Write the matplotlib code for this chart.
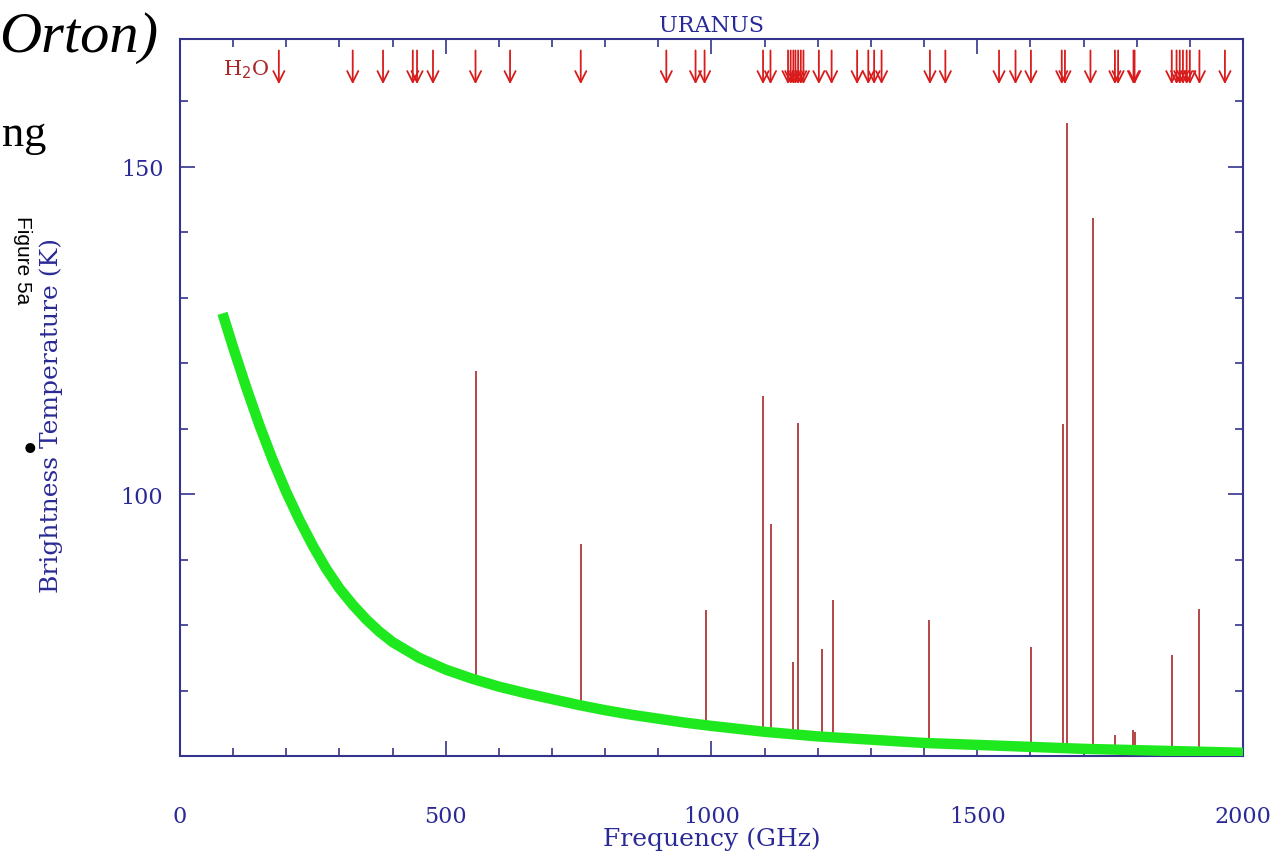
import numpy as np
import matplotlib.pyplot as plt
from matplotlib.ticker import MultipleLocator

# ===================== DATA =====================
# continuum (green) brightness temperature
CONT_FREQ = [80, 100, 125, 150, 175, 200, 225, 250, 275, 300, 325, 350, 375,
             400, 450, 500, 550, 600, 650, 700, 750, 800, 850, 900, 950,
             1000, 1100, 1200, 1300, 1400, 1500, 1600, 1700, 1800, 1900, 2000]
CONT_TEMP = [127.6, 122.4, 116.2, 110.4, 105.1, 100.3, 96.0, 92.1, 88.6, 85.6,
             83.1, 80.9, 79.0, 77.4, 75.0, 73.2, 71.8, 70.6, 69.6, 68.7, 67.8,
             67.0, 66.3, 65.7, 65.1, 64.6, 63.7, 63.0, 62.5, 62.0, 61.7, 61.4,
             61.1, 60.9, 60.7, 60.5]

# emission line peaks (red)
LINE_FREQ = [557, 754, 990, 1097, 1112, 1153, 1162, 1207, 1228, 1410,
             1602, 1661, 1668, 1717, 1760, 1793, 1796, 1866, 1917]
LINE_PEAK = [118.8, 92.4, 82.3, 115.0, 95.4, 74.4, 110.9, 76.4, 83.8, 80.8,
             76.6, 110.7, 156.6, 142.1, 63.2, 64.0, 63.7, 75.4, 82.4]

# H2O line positions marked with arrows at the top
H2O_FREQ = [186, 325, 382, 438, 446, 476, 556, 621, 754, 915, 970, 987,
            1097, 1111, 1144, 1149, 1154, 1158, 1163, 1168, 1173, 1202, 1226,
            1274, 1295, 1306, 1320, 1411, 1440, 1541, 1572, 1601, 1659, 1665,
            1713, 1759, 1765, 1794, 1796, 1866, 1875, 1881, 1887, 1894, 1900,
            1918, 1966]

X_TICKS = [0, 500, 1000, 1500, 2000]
Y_TICKS = [100, 150]

# ===================== COLOURS =====================
NAVY = "#34348c"
NAVY_TEXT = "#2a2a96"
LINE_RED = "#a82828"
ARROW_RED = "#d81c1c"
GREEN = "#1ee81e"

SERIF = "DejaVu Serif"

fig = plt.figure(figsize=(12.72, 8.53), dpi=100)
ax = fig.add_axes([0.1415, 0.1125, 0.8357, 0.8406])

# spectral lines (behind the continuum)
base = np.interp(LINE_FREQ, CONT_FREQ, CONT_TEMP)
ax.vlines(LINE_FREQ, base, LINE_PEAK, color=LINE_RED, linewidth=1.2, zorder=2)

# continuum
ax.plot(CONT_FREQ, CONT_TEMP, color=GREEN, linewidth=7.5, solid_capstyle="butt",
        solid_joinstyle="round", zorder=3)

# H2O arrows
trans = ax.get_xaxis_transform()
for f in H2O_FREQ:
    ax.annotate("", xy=(f, 0.937), xytext=(f, 0.984),
                xycoords=trans, textcoords=trans,
                arrowprops=dict(arrowstyle="->", color=ARROW_RED, lw=1.3,
                                mutation_scale=20, shrinkA=0, shrinkB=0))
ax.text(168, 0.958, "H$_2$O", transform=trans, ha="right", va="center",
        color=LINE_RED, fontsize=15, family=SERIF)

# ===================== AXES =====================
ax.set_xlim(0, 2000)
ax.set_ylim(60, 169.5)
ax.set_xticks(X_TICKS)
ax.set_yticks(Y_TICKS)
ax.xaxis.set_minor_locator(MultipleLocator(100))
ax.yaxis.set_minor_locator(MultipleLocator(10))

for sp in ax.spines.values():
    sp.set_color(NAVY)
    sp.set_linewidth(1.5)

ax.tick_params(which="both", direction="in", top=True, right=True,
               color=NAVY, width=1.2, labelcolor=NAVY_TEXT, labelsize=16)
ax.tick_params(which="major", length=11)
ax.tick_params(which="minor", length=5.5)
ax.tick_params(axis="x", which="major", pad=35)
ax.tick_params(axis="y", which="major", pad=12)
for lab in ax.get_xticklabels() + ax.get_yticklabels():
    lab.set_family(SERIF)

ax.set_xlabel("Frequency (GHz)", fontsize=18, color=NAVY_TEXT, family=SERIF)
ax.xaxis.set_label_coords(0.5, -0.098)
ax.set_ylabel("Brightness Temperature (K)", fontsize=18, color=NAVY_TEXT,
              family=SERIF)
ax.yaxis.set_label_coords(-0.110, 0.476)
ax.set_title("URANUS", fontsize=16, color=NAVY_TEXT, family=SERIF, pad=6)

# ===================== SLIDE FRAGMENTS =====================
fig.text(158 / 1272, 1 - 52 / 853, "Orton)", ha="right", va="baseline",
         fontsize=42, style="italic", family="Liberation Serif", color="black")
fig.text(2 / 1272, 1 - 146 / 853, "ng", ha="left", va="baseline",
         fontsize=32, family="Liberation Serif", color="black")
fig.text(22 / 1272, 1 - 260 / 853, "Figure 5a", ha="center", va="center",
         rotation=-90, fontsize=15, family="Liberation Sans", color="black")
fig.text(30 / 1272, 1 - 452 / 853, "•", ha="center", va="center",
         fontsize=30, family="Liberation Serif", color="black")

plt.savefig("out.png", dpi=100)
